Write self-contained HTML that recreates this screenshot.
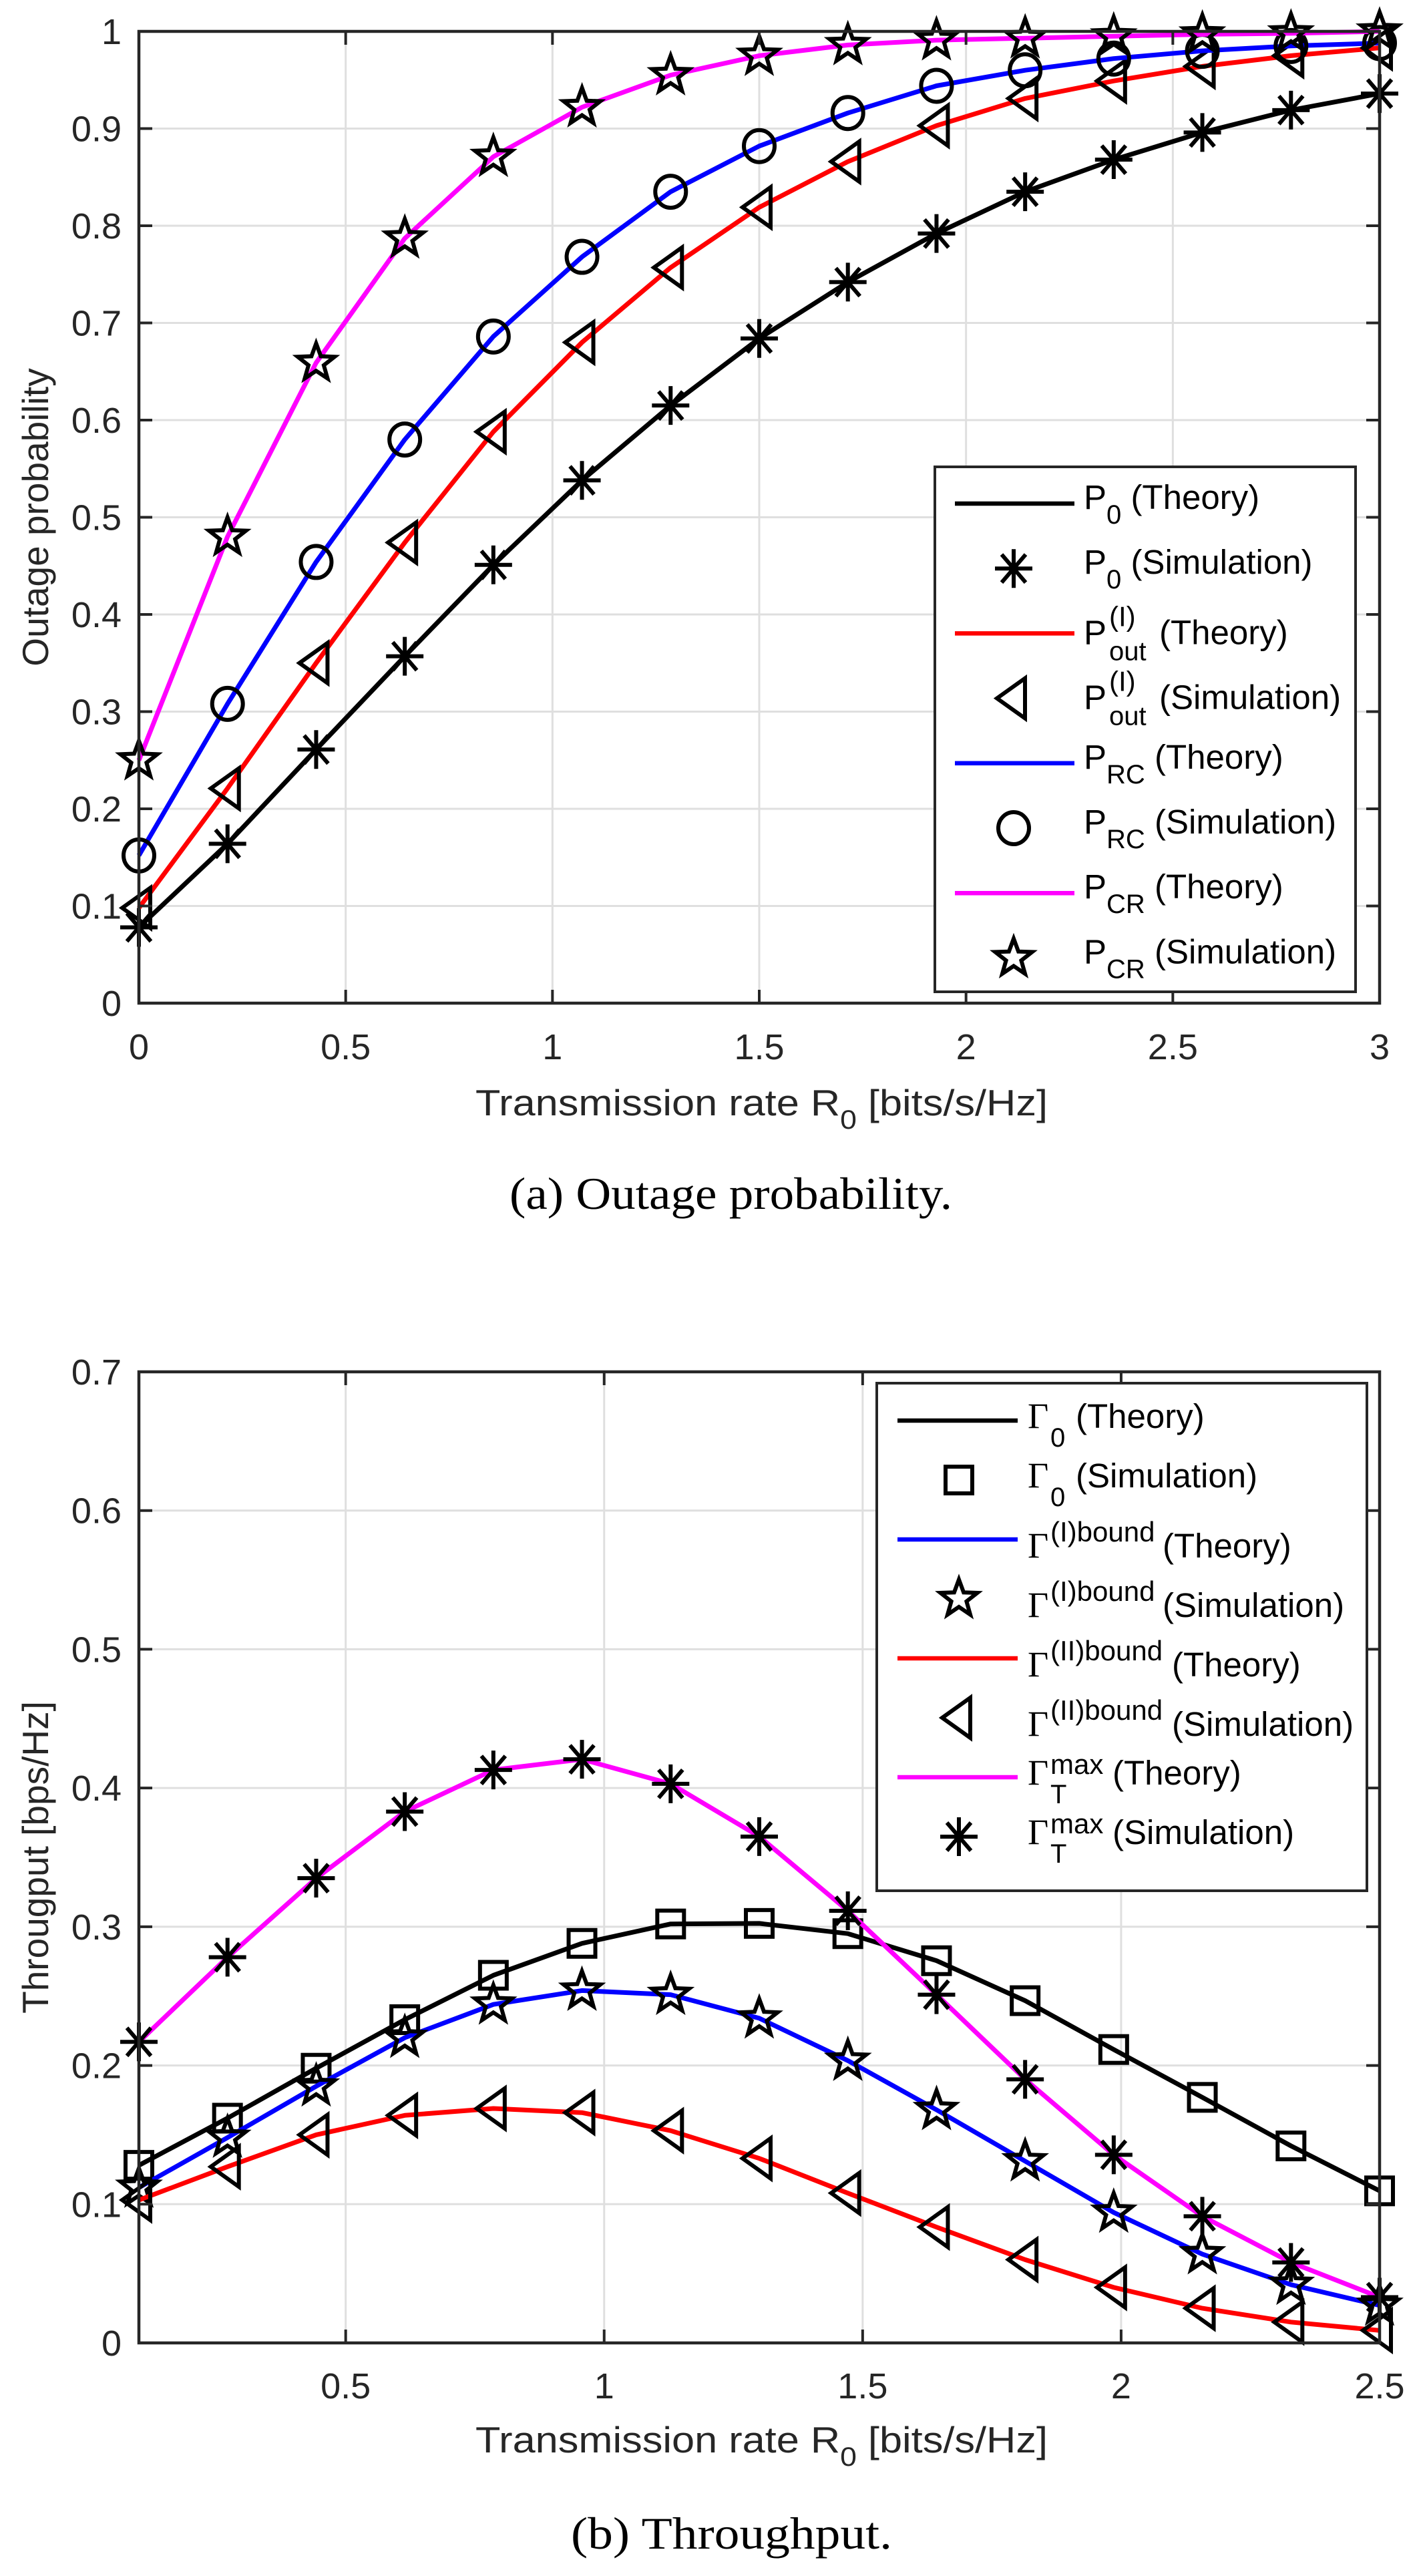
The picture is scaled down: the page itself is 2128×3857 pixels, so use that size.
<!DOCTYPE html>
<html><head><meta charset="utf-8"><title>Outage probability and throughput</title>
<style>
html,body{margin:0;padding:0;background:#fff;}
svg{display:block;}
</style></head>
<body>
<svg id="fig" width="2128" height="3857" viewBox="0 0 2128 3857" xmlns="http://www.w3.org/2000/svg" font-family="Liberation Sans, Arial, sans-serif">
<rect x="0" y="0" width="2128" height="3857" fill="#fff"/>
<g id="chartA"></g>
<g id="chartB"></g>
<text x="763" y="1810" font-family="Liberation Serif, serif" font-size="68" textLength="663" lengthAdjust="spacingAndGlyphs" fill="#000">(a)  Outage probability.</text>
<text x="855" y="3816" font-family="Liberation Serif, serif" font-size="68" textLength="481" lengthAdjust="spacingAndGlyphs" fill="#000">(b)  Throughput.</text>
</svg>
<script>
// ---------- Chart A data ----------
const aX = [0,0.2143,0.4286,0.6429,0.8571,1.0714,1.2857,1.5,1.7143,1.9286,2.1429,2.3571,2.5714,2.7857,3];
const aP0 = [0.078,0.164,0.261,0.357,0.451,0.538,0.615,0.684,0.742,0.792,0.835,0.868,0.896,0.919,0.936];
const aPout = [0.098,0.221,0.35,0.474,0.588,0.68,0.757,0.819,0.866,0.903,0.931,0.949,0.964,0.975,0.983];
const aPRC = [0.152,0.308,0.454,0.58,0.686,0.768,0.835,0.882,0.916,0.944,0.96,0.972,0.98,0.985,0.988];
const aPCR = [0.25,0.48,0.659,0.787,0.871,0.922,0.955,0.975,0.986,0.991,0.993,0.995,0.997,0.998,1.0];
const aXTicks = [0,0.5,1,1.5,2,2.5,3];
const aXTickLabels = ["0","0.5","1","1.5","2","2.5","3"];
const aYTicks = [0,0.1,0.2,0.3,0.4,0.5,0.6,0.7,0.8,0.9,1];
const aYTickLabels = ["0","0.1","0.2","0.3","0.4","0.5","0.6","0.7","0.8","0.9","1"];

// ---------- Chart B data ----------
const bX = [0.1,0.2714,0.4429,0.6143,0.7857,0.9571,1.1286,1.3,1.4714,1.6429,1.8143,1.9857,2.1571,2.3286,2.5];
const bG0 = [0.128,0.162,0.198,0.233,0.265,0.288,0.302,0.3024,0.295,0.2755,0.2467,0.2115,0.177,0.142,0.1096];
const bGI = [0.112,0.148,0.185,0.22,0.244,0.254,0.251,0.234,0.2035,0.168,0.131,0.094,0.064,0.042,0.027];
const bGII = [0.103,0.127,0.15,0.164,0.169,0.166,0.153,0.133,0.108,0.0835,0.06,0.04,0.025,0.015,0.009];
const bGT = [0.217,0.278,0.335,0.383,0.413,0.4207,0.403,0.365,0.3115,0.251,0.19,0.1356,0.0913,0.058,0.033];
const bXTicks = [0.5,1,1.5,2,2.5];
const bXTickLabels = ["0.5","1","1.5","2","2.5"];
const bYTicks = [0,0.1,0.2,0.3,0.4,0.5,0.6,0.7];
const bYTickLabels = ["0","0.1","0.2","0.3","0.4","0.5","0.6","0.7"];

const NS = "http://www.w3.org/2000/svg";
function mk(tag, attrs, parent){
  const e = document.createElementNS(NS, tag);
  for (const k in attrs) e.setAttribute(k, attrs[k]);
  parent.appendChild(e);
  return e;
}
const AX = "#262626";

function drawMarker(g, type, cx, cy){
  const s = 6;
  let m;
  if (type === "asterisk"){
    m = mk("path", {d:`M${cx-28},${cy}H${cx+28}M${cx},${cy-29}V${cy+29}M${cx-18},${cy-21}L${cx+18},${cy+21}M${cx-18},${cy+21}L${cx+18},${cy-21}`, stroke:"#000","stroke-width":s, fill:"none"}, g);
  } else if (type === "triangle"){
    m = mk("path", {d:`M${cx-25},${cy}L${cx+17},${cy-30}L${cx+17},${cy+30}Z`, stroke:"#000","stroke-width":s, fill:"none","stroke-linejoin":"miter"}, g);
  } else if (type === "circle"){
    m = mk("ellipse", {cx:cx, cy:cy, rx:23, ry:24, stroke:"#000","stroke-width":s, fill:"none"}, g);
  } else if (type === "star"){
    let d = "";
    for (let i=0;i<10;i++){
      const r = (i%2===0)?29:12;
      const a = -Math.PI/2 + i*Math.PI/5;
      d += (i===0?"M":"L") + (cx+r*Math.cos(a)).toFixed(1) + "," + (cy+r*Math.sin(a)).toFixed(1);
    }
    m = mk("path", {d:d+"Z", stroke:"#000","stroke-width":s, fill:"none","stroke-linejoin":"miter"}, g);
  } else if (type === "square"){
    m = mk("rect", {x:cx-20, y:cy-20, width:40, height:40, stroke:"#000","stroke-width":s, fill:"none"}, g);
  }
  return m;
}

function buildAxes(g, cfg){
  const {L,R,T,B,xmin,xmax,ymin,ymax} = cfg;
  const sx = v => L + (v - xmin) / (xmax - xmin) * (R - L);
  const sy = v => B - (v - ymin) / (ymax - ymin) * (B - T);
  cfg.xTicks.forEach(v => {
    const gl = mk("line", {x1:sx(v), x2:sx(v), y1:T, y2:B, stroke:"#dfdfdf","stroke-width":3}, g);
    
    
  });
  cfg.yTicks.forEach(v => {
    const gl = mk("line", {x1:L, x2:R, y1:sy(v), y2:sy(v), stroke:"#dfdfdf","stroke-width":3}, g);
    
    
  });
  return {sx, sy};
}

function finishAxes(g, cfg, sx, sy){
  const {L,R,T,B} = cfg;
  cfg.xTicks.forEach((v,i) => {
    const x = sx(v);
    mk("line", {x1:x,x2:x,y1:B,y2:B-20,stroke:AX,"stroke-width":4}, g);
    mk("line", {x1:x,x2:x,y1:T,y2:T+20,stroke:AX,"stroke-width":4}, g);
    const t = mk("text", {x:x, y:cfg.xTickY, "text-anchor":"middle", "font-size":54, fill:AX}, g);
    t.textContent = cfg.xTickLabels[i];
    
    
  });
  cfg.yTicks.forEach((v,i) => {
    const y = sy(v);
    mk("line", {x1:L,x2:L+20,y1:y,y2:y,stroke:AX,"stroke-width":4}, g);
    mk("line", {x1:R,x2:R-20,y1:y,y2:y,stroke:AX,"stroke-width":4}, g);
    const t = mk("text", {x:182, y:y+19, "text-anchor":"end", "font-size":54, fill:AX}, g);
    t.textContent = cfg.yTickLabels[i];
    
    
  });
  const box = mk("rect", {x:L, y:T, width:R-L, height:B-T, fill:"none", stroke:AX, "stroke-width":4.5}, g);
  
  
  const xl = mk("text", {x:712, y:cfg.xLabelY, "font-size":55, fill:AX, textLength:857, lengthAdjust:"spacingAndGlyphs"}, g);
  
  
  xl.innerHTML = 'Transmission rate R<tspan dy="20" font-size="40">0</tspan><tspan dy="-20"> [bits/s/Hz]</tspan>';
  const cy = (T+B)/2;
  const yl = mk("text", {x:0, y:0, "font-size":55, fill:AX, "text-anchor":"middle", transform:`translate(72,${cy}) rotate(-90)`}, g);
  
  
  yl.textContent = cfg.yLabel;
}

function drawSeries(g, xs, ys, sx, sy, color, marker, name){
  const pts = xs.map((x,i) => sx(x).toFixed(1) + "," + sy(ys[i]).toFixed(1)).join(" ");
  const line = mk("polyline", {points:pts, fill:"none", stroke:color, "stroke-width":7, "stroke-linejoin":"round"}, g);
  
  
  xs.forEach((x,i) => {
    const m = drawMarker(g, marker, sx(x), sy(ys[i]));
    
    
  });
}

function legendBox(g, x, y, w, h){
  const r = mk("rect", {x:x, y:y, width:w, height:h, fill:"#fff", stroke:AX, "stroke-width":4}, g);
  
  
}

// ---------- Chart A ----------
const gA = document.getElementById("chartA");
const cfgA = {L:208,R:2066,T:47,B:1502,xmin:0,xmax:3,ymin:0,ymax:1,
  xTicks:aXTicks,xTickLabels:aXTickLabels,yTicks:aYTicks,yTickLabels:aYTickLabels,
  xTickY:1586,xLabelY:1670,yLabel:"Outage probability"};
const axA = buildAxes(gA, cfgA);
drawSeries(gA, aX, aP0, axA.sx, axA.sy, "#000", "asterisk", "p0");
drawSeries(gA, aX, aPout, axA.sx, axA.sy, "#ff0000", "triangle", "pout");
drawSeries(gA, aX, aPRC, axA.sx, axA.sy, "#0000ff", "circle", "prc");
drawSeries(gA, aX, aPCR, axA.sx, axA.sy, "#ff00ff", "star", "pcr");
finishAxes(gA, cfgA, axA.sx, axA.sy);

const legA = mk("g", {}, gA);


legendBox(legA, 1400, 699, 630, 786);
const legAItems = [
  {kind:"line", color:"#000", html:'P<tspan dy="22" font-size="40">0</tspan><tspan dy="-22"> (Theory)</tspan>', name:"legend-p0-theory"},
  {kind:"asterisk", html:'P<tspan dy="22" font-size="40">0</tspan><tspan dy="-22"> (Simulation)</tspan>', name:"legend-p0-simulation"},
  {kind:"line", color:"#ff0000", sup:"(I)", sub:"out", rest:"(Theory)", name:"legend-pout-theory"},
  {kind:"triangle", sup:"(I)", sub:"out", rest:"(Simulation)", name:"legend-pout-simulation"},
  {kind:"line", color:"#0000ff", html:'P<tspan dy="22" font-size="40">RC</tspan><tspan dy="-22"> (Theory)</tspan>', name:"legend-prc-theory"},
  {kind:"circle", html:'P<tspan dy="22" font-size="40">RC</tspan><tspan dy="-22"> (Simulation)</tspan>', name:"legend-prc-simulation"},
  {kind:"line", color:"#ff00ff", html:'P<tspan dy="22" font-size="40">CR</tspan><tspan dy="-22"> (Theory)</tspan>', name:"legend-pcr-theory"},
  {kind:"star", html:'P<tspan dy="22" font-size="40">CR</tspan><tspan dy="-22"> (Simulation)</tspan>', name:"legend-pcr-simulation"}
];
legAItems.forEach((it, i) => {
  const cy = 754 + i*97.2;
  const eg = mk("g", {}, legA);
  
  
  if (it.kind === "line") mk("line", {x1:1430, x2:1609, y1:cy, y2:cy, stroke:it.color, "stroke-width":6.5}, eg);
  else drawMarker(eg, it.kind, 1518, cy);
  if (it.html){
    const t = mk("text", {x:1623, y:cy+8, "font-size":51, fill:"#000"}, eg);
    t.innerHTML = it.html;
  } else {
    const t1 = mk("text", {x:1623, y:cy+16, "font-size":51, fill:"#000"}, eg); t1.textContent = "P";
    const t2 = mk("text", {x:1661, y:cy-11, "font-size":42, fill:"#000"}, eg); t2.textContent = it.sup;
    const t3 = mk("text", {x:1661, y:cy+40, "font-size":40, fill:"#000"}, eg); t3.textContent = it.sub;
    const t4 = mk("text", {x:1736, y:cy+16, "font-size":51, fill:"#000"}, eg); t4.textContent = it.rest;
  }
});

// ---------- Chart B ----------
const gB = document.getElementById("chartB");
const cfgB = {L:208,R:2066,T:2054,B:3508,xmin:0.1,xmax:2.5,ymin:0,ymax:0.7,
  xTicks:bXTicks,xTickLabels:bXTickLabels,yTicks:bYTicks,yTickLabels:bYTickLabels,
  xTickY:3591,xLabelY:3672,yLabel:"Througput [bps/Hz]"};
const axB = buildAxes(gB, cfgB);
drawSeries(gB, bX, bG0, axB.sx, axB.sy, "#000", "square", "gamma0");
drawSeries(gB, bX, bGI, axB.sx, axB.sy, "#0000ff", "star", "gamma-i-bound");
drawSeries(gB, bX, bGII, axB.sx, axB.sy, "#ff0000", "triangle", "gamma-ii-bound");
drawSeries(gB, bX, bGT, axB.sx, axB.sy, "#ff00ff", "asterisk", "gamma-t-max");
finishAxes(gB, cfgB, axB.sx, axB.sy);

const legB = mk("g", {}, gB);


legendBox(legB, 1313, 2071, 734, 760);
const legBItems = [
  {kind:"line", color:"#000", sub:"0", rest:"(Theory)", restX:1611, name:"legend-gamma0-theory"},
  {kind:"square", sub:"0", rest:"(Simulation)", restX:1611, name:"legend-gamma0-simulation"},
  {kind:"line", color:"#0000ff", sup:"(I)bound", rest:"(Theory)", restX:1741, name:"legend-gamma-i-theory"},
  {kind:"star", sup:"(I)bound", rest:"(Simulation)", restX:1741, name:"legend-gamma-i-simulation"},
  {kind:"line", color:"#ff0000", sup:"(II)bound", rest:"(Theory)", restX:1755, name:"legend-gamma-ii-theory"},
  {kind:"triangle", sup:"(II)bound", rest:"(Simulation)", restX:1755, name:"legend-gamma-ii-simulation"},
  {kind:"line", color:"#ff00ff", sup:"max", sub:"T", rest:"(Theory)", restX:1666, name:"legend-gamma-t-theory"},
  {kind:"asterisk", sup:"max", sub:"T", rest:"(Simulation)", restX:1666, name:"legend-gamma-t-simulation"}
];
legBItems.forEach((it, i) => {
  const cy = 2127 + i*89;
  const eg = mk("g", {}, legB);
  
  
  if (it.kind === "line") mk("line", {x1:1344, x2:1524, y1:cy, y2:cy, stroke:it.color, "stroke-width":6.5}, eg);
  else drawMarker(eg, it.kind, 1436, cy);
  const hasSup = !!it.sup;
  const gy = (hasSup && !it.sub) ? cy + 27 : cy + 11;
  const tg = mk("text", {x:1539, y:gy, "font-size":54, "font-family":"Liberation Serif, serif", fill:"#000"}, eg);
  tg.textContent = "\u0393";
  if (it.sup){
    const ts = mk("text", {x:1573, y:it.sub ? cy-5 : cy+3, "font-size":42, fill:"#000"}, eg);
    ts.textContent = it.sup;
  }
  if (it.sub){
    const tb = mk("text", {x:1573, y:cy+39, "font-size":40, fill:"#000"}, eg);
    tb.textContent = it.sub;
  }
  const tr = mk("text", {x:it.restX, y:gy, "font-size":51, fill:"#000"}, eg);
  tr.textContent = it.rest;
});
</script>
</body></html>
